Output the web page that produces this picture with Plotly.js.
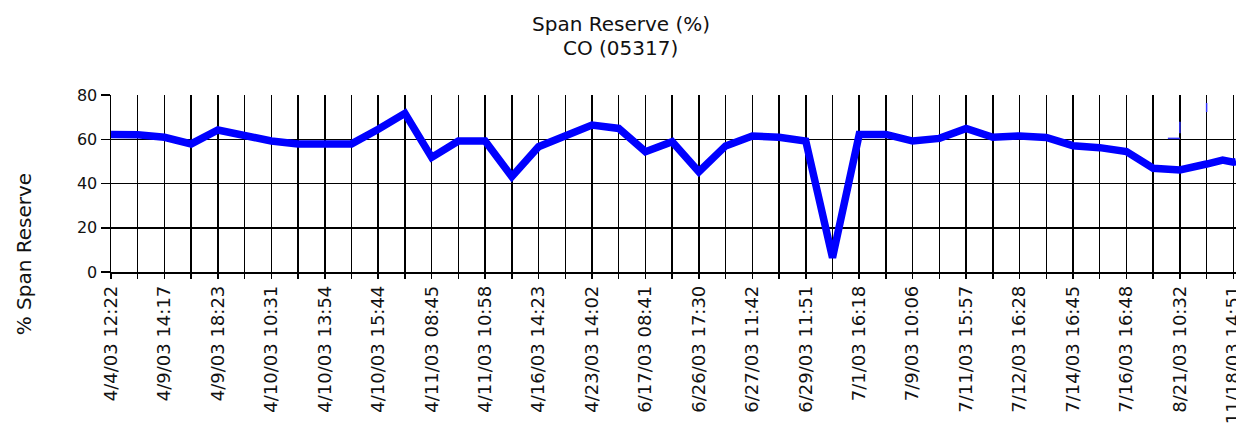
<!DOCTYPE html>
<html>
<head>
<meta charset="utf-8">
<script src="https://cdn.plot.ly/plotly-3.0.1.min.js"></script>
<style>
  html, body { margin: 0; padding: 0; background: #ffffff; }
  #chart { width: 1236px; height: 433px; }
</style>
</head>
<body>
<div id="chart"></div>
<script>
// Title lines
const titleLines = ["Span Reserve (%)", "CO (05317)"];

// Tick labels (every second sample is labelled)
const tickLabels = [
  "4/4/03 12:22", "4/9/03 14:17", "4/9/03 18:23", "4/10/03 10:31",
  "4/10/03 13:54", "4/10/03 15:44", "4/11/03 08:45", "4/11/03 10:58",
  "4/16/03 14:23", "4/23/03 14:02", "6/17/03 08:41", "6/26/03 17:30",
  "6/27/03 11:42", "6/29/03 11:51", "7/1/03 16:18", "7/9/03 10:06",
  "7/11/03 15:57", "7/12/03 16:28", "7/14/03 16:45", "7/16/03 16:48",
  "8/21/03 10:32", "11/18/03 14:51"
];

// Sample positions (calibration index) and % span reserve values
const sampleIndex = [
  0, 1, 2, 3, 4, 5, 6, 7, 8, 9, 10,
  11, 12, 13, 14, 15, 16, 17, 18, 19, 20,
  21, 22, 23, 24, 25, 26, 27, 28, 29, 30,
  31, 32, 33, 34, 35, 36, 37, 38, 39, 40,
  41, 41.6, 42, 42.1
];
const spanReserve = [
  62.2, 62.0, 60.9, 57.9, 64.2, 61.5, 59.2, 57.9, 58.2, 57.9, 64.5,
  71.7, 51.8, 59.2, 59.2, 43.1, 56.6, 61.5, 66.4, 64.9, 54.4,
  58.9, 45.3, 57.0, 61.5, 60.9, 59.2, 6.5, 62.2, 62.2, 59.2,
  60.4, 64.9, 60.9, 61.5, 60.8, 57.1, 56.2, 54.4, 46.9, 46.1,
  48.8, 50.6, 49.6, 49.9
];

// Small thin blue marks near the right end
const markIndex = [39.55, 40, null, 40, 40, null, 41, 41];
const markValue = [60.4, 60.4, null, 62.7, 67.9, null, 72.3, 76.4];

const nCategories = 43;
const tickVals = [];
const tickText = [];
for (let i = 0; i < nCategories; i++) {
  tickVals.push(i);
  tickText.push(i % 2 === 0 ? tickLabels[i / 2] : "");
}

const FONT = "DejaVu Sans, Arial, sans-serif";

const traces = [
  {
    x: sampleIndex,
    y: spanReserve,
    type: "scatter",
    mode: "lines",
    line: { color: "#0000ff", width: 7.5 },
    hoverinfo: "y"
  },
  {
    x: markIndex,
    y: markValue,
    type: "scatter",
    mode: "lines",
    connectgaps: false,
    line: { color: "#3333ff", width: 1.5 },
    hoverinfo: "skip"
  }
];

const layout = {
  width: 1236,
  height: 433,
  margin: { l: 111, r: 0, t: 95, b: 161 },
  paper_bgcolor: "#ffffff",
  plot_bgcolor: "#ffffff",
  showlegend: false,
  font: { family: FONT, color: "#000000" },
  xaxis: {
    range: [0, 42.1],
    tickmode: "array",
    tickvals: tickVals,
    ticktext: tickText,
    tickangle: -90,
    ticklabeloverflow: "allow",
    ticks: "outside",
    ticklen: 5,
    tickwidth: 1.5,
    tickcolor: "#000000",
    tickfont: { family: FONT, size: 18, color: "#111111" },
    showgrid: true,
    gridcolor: "#000000",
    gridwidth: 1.5,
    showline: true,
    linecolor: "#000000",
    linewidth: 1.5,
    zeroline: false,
    fixedrange: true
  },
  yaxis: {
    range: [0, 80],
    tickmode: "linear",
    tick0: 0,
    dtick: 20,
    ticks: "outside",
    ticklen: 9,
    tickwidth: 1.5,
    tickcolor: "#000000",
    tickfont: { family: FONT, size: 16, color: "#111111" },
    showgrid: true,
    gridcolor: "#000000",
    gridwidth: 1.5,
    showline: true,
    linecolor: "#000000",
    linewidth: 1.5,
    zeroline: false,
    fixedrange: true
  },
  annotations: [
    {
      text: titleLines[0],
      xref: "paper", yref: "paper",
      x: 0.4533, y: 1.401,
      xanchor: "center", yanchor: "middle",
      showarrow: false,
      font: { family: FONT, size: 20, color: "#111111" }
    },
    {
      text: titleLines[1],
      xref: "paper", yref: "paper",
      x: 0.4533, y: 1.2655,
      xanchor: "center", yanchor: "middle",
      showarrow: false,
      font: { family: FONT, size: 20, color: "#111111" }
    },
    {
      text: "% Span Reserve",
      textangle: -90,
      xref: "paper",
      yref: "paper",
      x: -0.0773,
      y: 0.10,
      xanchor: "center",
      yanchor: "middle",
      showarrow: false,
      font: { family: FONT, size: 20, color: "#111111" }
    }
  ]
};

Plotly.newPlot("chart", traces, layout, { displayModeBar: false, staticPlot: true });
</script>
</body>
</html>
